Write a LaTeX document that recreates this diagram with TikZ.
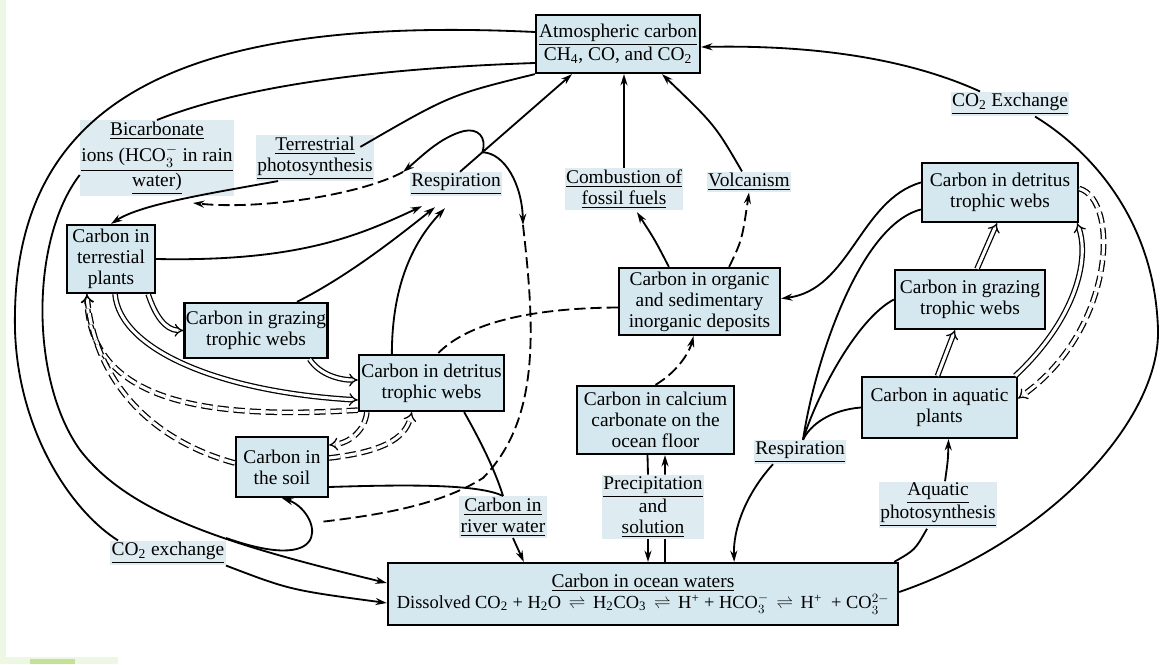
\documentclass[tikz,border=0pt]{standalone}
\usepackage{fontspec}
\setmainfont{Liberation Serif}
\usepackage{amsmath}
\usepackage{tikz}
\usetikzlibrary{arrows.meta}
\usetikzlibrary{calc}

\definecolor{boxblue}{RGB}{213,232,239}
\definecolor{tagblue}{RGB}{222,235,241}
\definecolor{edgegreen}{RGB}{238,247,228}
\definecolor{leafgreen}{RGB}{196,226,150}

\newcommand{\lo}[1]{\textsubscript{#1}}
\newcommand{\hi}[1]{\textsuperscript{#1}}
\newcommand{\rlh}{\,$\rightleftharpoons$\,}

\begin{document}
\begin{tikzpicture}[x=0.025cm, y=-0.025cm,
  font=\fontsize{13.8}{15}\selectfont,
  cbox/.style={draw, fill=boxblue, line width=1.6pt, align=center, inner sep=1pt},
  ctag/.style={fill=tagblue, align=center, inner sep=1pt},
  link/.style={line width=1.3pt},
  flow/.style={link, -{Stealth[length=8pt,width=5pt]}},
  broken/.style={dash pattern=on 8pt off 3.5pt},
  twin/.style={double, line width=0.9pt, double distance=2.2pt, -{Implies}}]
\useasboundingbox (0,0) rectangle (1176,664);
\fill[edgegreen] (0,0) rectangle (6,664);
\fill[edgegreen] (0,657) rectangle (118,664);
\fill[leafgreen] (30,659) rectangle (75,664);

\node[cbox, minimum width=4.1cm, minimum height=1.45cm] (atm) at (618,44) {\underline{Atmospheric carbon}\\CH\lo{4}, CO, and CO\lo{2}};
\node[cbox, minimum width=2.2cm, minimum height=1.7cm] (plants) at (111,259) {Carbon in\\terrestial\\plants};
\node[cbox, minimum width=3.5cm, minimum height=1.375cm] (graze) at (256,330.5) {Carbon in grazing\\trophic webs};
\node[cbox, minimum width=3.625cm, minimum height=1.4cm] (detl) at (431.5,383) {Carbon in detritus\\trophic webs};
\node[cbox, minimum width=2.3cm, minimum height=1.5cm] (soil) at (282,467) {Carbon in\\the soil};
\node[cbox, minimum width=4.025cm, minimum height=1.675cm] (dep) at (699.5,301.5) {Carbon in organic\\and sedimentary\\inorganic deposits};
\node[cbox, minimum width=3.925cm, minimum height=1.7cm] (floor) at (655.5,420) {Carbon in calcium\\carbonate on the\\ocean floor};
\node[cbox, minimum width=12.75cm, minimum height=1.55cm] (ocean) at (643,594) {\underline{Carbon in ocean waters}\\{\fontsize{13.1}{15}\selectfont Dissolved CO\lo{2} + H\lo{2}O \rlh{} H\lo{2}CO\lo{3} \rlh{} H\hi{+} + HCO$_3^-$ \rlh{} H\hi{+} \ + CO$_{\lower1.5pt\hbox{$\scriptstyle 3$}}^{2-}$}};
\node[cbox, minimum width=3.9cm, minimum height=1.475cm] (detr) at (1000,192.5) {Carbon in detritus\\trophic webs};
\node[cbox, minimum width=3.75cm, minimum height=1.475cm] (grazr) at (970,299.5) {Carbon in grazing\\trophic webs};
\node[cbox, minimum width=3.875cm, minimum height=1.525cm] (aqua) at (939.5,407.5) {Carbon in aquatic\\plants};

\node[ctag] (bic) at (157,158) {\underline{Bicarbonate}\\[4pt]\underline{ions (HCO$_3^-$ in rain}\\\underline{water)}};
\node[ctag] (terr) at (315,158) {\underline{Terrestrial}\\\underline{photosynthesis}};
\node[ctag] (respl) at (456,184) {\underline{Respiration}};
\node[ctag] (comb) at (624,189) {\underline{Combustion of}\\\underline{fossil fuels}};
\node[ctag] (volc) at (749,182) {\underline{Volcanism}};
\node[ctag] (co2r) at (1010,104) {\underline{CO\lo{2} Exchange}};
\node[ctag] (respr) at (800,452) {\underline{Respiration}};
\node[ctag] (prec) at (653,507) {\underline{Precipitation}\\and\\\underline{solution}};
\node[ctag] (river) at (503,517) {\underline{Carbon in}\\\underline{river water}};
\node[ctag] (aqph) at (938,505) {\underline{Aquatic}\\\underline{photosynthesis}};
\node[ctag] (co2l) at (168,553) {\underline{CO\lo{2} exchange}};

\coordinate (r0) at ($(respl.north)+(4,0)$);
\coordinate (a0) at ($(atm.south)+(-46,0)$);
\coordinate (j) at ($(r0)!0.2!(a0)$);
\coordinate (k) at (403,172);
\coordinate (m) at (193,203);
\coordinate (n) at (523,225);
\coordinate (q) at (226,538);

\draw[link] ($(atm.west)+(0,-12)$) .. controls (180,15) and (10,100) .. (15,330) .. controls (18,430) and (70,510) .. ($(co2l.north west)+(8,0)$);
\draw[link] ($(atm.west)+(0,19)$) .. controls (330,70) and (220,95) .. (bic.north);
\draw[flow] ($(bic.west)+(0,17)$) .. controls (30,240) and (30,380) .. (80,450) .. controls (130,515) and (230,545) .. ($(ocean.west)+(0,-11)$);
\draw[flow] (q) .. controls (340,578) and (318,510) .. (soil.south);
\draw[flow] (co2l.south east) .. controls (290,590) .. ($(ocean.west)+(0,9)$);
\draw[link] (atm.south west) .. controls (450,95) .. ($(terr.north east)+(-14,12)$);
\draw[flow] ($(terr.south)+(-37,0)$) .. controls (200,195) and (140,205) .. (plants.north);
\draw[flow] (r0) -- (a0);
\draw[flow] (j) .. controls (487,137) and (478,128) .. (464,131) .. controls (440,137) and (420,158) .. (k);
\draw[flow, broken] (k) .. controls (360,195) and (260,210) .. (m);
\draw[flow] (j) .. controls (505,153) and (522,185) .. (n);
\draw[link, broken] (n) .. controls (535,330) and (540,420) .. (483,478) .. controls (440,505) and (380,515) .. (320,522);
\draw[flow] (plants.east) .. controls (300,262) and (360,235) .. ($(respl.south)+(-34,10)$);
\draw[flow] ($(graze.north)+(41,0)$) .. controls (350,275) and (400,235) .. ($(respl.south)+(-21,11)$);
\draw[flow] ($(detl.north west)+(34,0)$) .. controls (392,290) and (410,245) .. ($(respl.south)+(-11,12)$);
\draw[twin] ($(plants.south east)+(-8,0)$) .. controls (155,315) and (165,330) .. (graze.west);
\draw[twin] ($(plants.south)+(4,0)$) .. controls (120,350) and (220,392) .. ($(detl.west)+(0,17)$);
\draw[twin] ($(graze.south east)+(-19,0)$) .. controls (320,375) and (340,380) .. ($(detl.west)+(0,-3)$);
\draw[twin, broken] ($(detl.south west)+(0,-2)$) .. controls (200,420) and (90,400) .. ($(plants.south west)+(21,0)$);
\draw[twin, broken] ($(soil.west)+(0,-4)$) .. controls (150,440) and (95,380) .. ($(plants.south west)+(21,0)$);
\draw[twin, broken] ($(detl.south west)+(9,0)$) .. controls (365,430) and (350,443) .. ($(soil.east)+(0,-22)$);
\draw[twin, broken] ($(soil.east)+(0,-9)$) .. controls (380,452) and (405,440) .. ($(detl.south west)+(54,0)$);
\draw[link] ($(soil.east)+(0,20)$) .. controls (420,484) and (480,485) .. (river.north);
\draw[link] ($(detl.south east)+(-41,0)$) .. controls (480,440) and (495,470) .. (river.north);
\draw[flow] ($(river.south)+(10,0)$) -- ($(ocean.north west)+(137,0)$);
\draw[link, broken] ($(dep.west)+(0,6)$) .. controls (540,308) and (470,320) .. ($(detl.north)+(6,0)$);
\draw[flow] ($(dep.north west)+(51,0)$) .. controls (655,240) .. ($(comb.south)+(13,2)$);
\draw[flow] (comb.north) -- (comb.north |- atm.south);
\draw[flow, broken] ($(dep.north east)+(-52,0)$) .. controls (742,240) .. (volc.south);
\draw[flow] ($(volc.north)+(-7,0)$) .. controls (715,125) .. ($(atm.south)+(44,0)$);
\draw[flow, broken] (floor.north) .. controls (680,370) and (690,350) .. ($(dep.south)+(-6,0)$);
\draw[link] ($(floor.south)+(-8,0)$) -- ($(prec.north)+(-5,0)$);
\draw[flow] ($(prec.north)+(12,0)$) -- ($(floor.south)+(9.5,0)$);
\draw[flow] ($(prec.south)+(-5,0)$) -- ($(ocean.north)+(5,0)$);
\draw[link] ($(ocean.north)+(22,0)$) -- ($(prec.south)+(12,0)$);
\draw[flow] ($(detr.west)+(0,-10)$) .. controls (860,200) and (850,290) .. ($(dep.east)+(0,-3)$);
\draw[link] ($(detr.west)+(0,17)$) .. controls (860,225) and (815,360) .. ($(respr.north)+(3,0)$);
\draw[link] (grazr.west) .. controls (855,320) and (815,400) .. ($(respr.north)+(3,0)$);
\draw[link] (aqua.west) .. controls (830,410) and (810,425) .. ($(respr.north)+(3,0)$);
\draw[flow] ($(respr.south)+(-27,0)$) .. controls (745,495) and (733,530) .. ($(ocean.north east)+(-165,0)$);
\draw[twin] ($(aqua.north)+(-2,0)$) -- ($(grazr.south)+(-15,0)$);
\draw[twin] ($(grazr.north)+(7,0)$) -- ($(detr.south)+(-3,0)$);
\draw[twin] ($(aqua.north east)+(-3,0)$) .. controls (1075,320) and (1090,260) .. ($(detr.south east)+(-2,0)$);
\draw[twin, broken] ($(detr.east)+(0,-4)$) .. controls (1120,200) and (1115,330) .. ($(aqua.east)+(0,-9)$);
\draw[link] ($(ocean.north east)+(-5,0)$) .. controls (915,550) .. ($(aqph.south)+(-11,0)$);
\draw[flow] ($(aqph.north)+(7,0)$) .. controls (948,460) .. ($(aqua.south)+(9,0)$);
\draw[link] ($(ocean.east)+(0,-2)$) .. controls (1050,540) and (1160,420) .. (1158,330) .. controls (1155,220) and (1090,150) .. ($(co2r.south)+(25,0)$);
\draw[flow] ($(co2r.north)+(-30,0)$) .. controls (900,55) and (800,45) .. ($(atm.east)+(0,3)$);
\end{tikzpicture}
\end{document}
